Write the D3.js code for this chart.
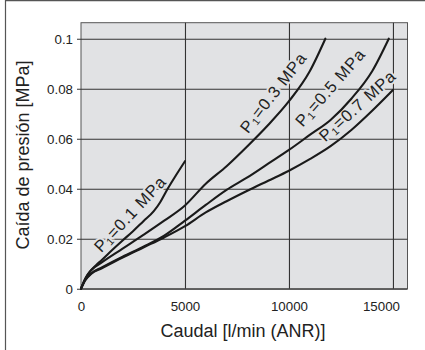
<!DOCTYPE html>
<html>
<head>
<meta charset="utf-8">
<script src="https://cdn.jsdelivr.net/npm/d3@7"></script>
<style>
  html, body { margin: 0; padding: 0; background: #fff; }
  svg { display: block; font-family: "Liberation Sans", Arial, sans-serif; }
</style>
</head>
<body>
<svg id="chart" width="425" height="350"></svg>
<script>
// ---- data ----
const xTicks = [0, 5000, 10000, 15000];
const yTicks = [0, 0.02, 0.04, 0.06, 0.08, 0.1];
const yTickLabels = ["0", "0.02", "0.04", "0.06", "0.08", "0.1"];
const xTickLabels = ["0", "5000", "10000", "15000"];

const flow01 = [0, 150, 400, 700, 1000, 1500, 2000, 2500, 3000, 3500, 3800, 4100, 4500, 5000];
const dp01   = [0, 0.003, 0.0065, 0.0092, 0.0115, 0.0155, 0.0193, 0.023, 0.027, 0.031, 0.0345, 0.039, 0.0445, 0.051];

const flow03 = [0, 200, 500, 1000, 2000, 3000, 4000, 5000, 6000, 7000, 8000, 9000, 10000, 11000, 11750];
const dp03   = [0, 0.004, 0.0075, 0.0105, 0.016, 0.0215, 0.0272, 0.0333, 0.042, 0.049, 0.057, 0.0655, 0.075, 0.087, 0.1];

const flow05 = [0, 200, 500, 1000, 2000, 3000, 4000, 5000, 6000, 7000, 8000, 9000, 10000, 11000, 12000, 13000, 14000, 14800];
const dp05   = [0, 0.0035, 0.0062, 0.0085, 0.0128, 0.0168, 0.0212, 0.0272, 0.0335, 0.0395, 0.0445, 0.05, 0.0555, 0.0615, 0.0675, 0.076, 0.087, 0.1];

const flow07 = [0, 200, 500, 1000, 2000, 3000, 4000, 5000, 6000, 7000, 8000, 9000, 10000, 11000, 12000, 13000, 14000, 15000];
const dp07   = [0, 0.0033, 0.006, 0.0082, 0.0125, 0.0165, 0.0205, 0.025, 0.0305, 0.035, 0.0392, 0.0432, 0.0472, 0.0518, 0.057, 0.0635, 0.0712, 0.0795];

const seriesNames = ["0.1", "0.3", "0.5", "0.7"];
// label anchor (centre) in data units and rotation
const labelFlow  = [2356, 9250, 11980, 13294];
const labelDp    = [0.0299, 0.0785, 0.0805, 0.0732];
const labelAngle = [-47, -52, -49, -42];

const xTitle = "Caudal [l/min (ANR)]";
const yTitle = "Caída de presión [MPa]";

// ---- layout ----
const svg = d3.select("#chart");
const mLeft = 81, mRight = 407.5, mTop = 22.7, mBottom = 288.7;
const x = d3.scaleLinear().domain([0, 15700]).range([mLeft, mRight]);
const y = d3.scaleLinear().domain([0, 0.1064]).range([mBottom, mTop]);

const gridColor = "#333";
const bg = "#e1e2e4";

// outer frame (left + top)
svg.append("line").attr("x1", 5.5).attr("x2", 5.5).attr("y1", 0).attr("y2", 350)
  .attr("stroke", "#555").attr("stroke-width", 1.2);
svg.append("line").attr("x1", 5).attr("x2", 425).attr("y1", 0.6).attr("y2", 0.6)
  .attr("stroke", "#555").attr("stroke-width", 1.2);

// plot background
svg.append("rect").attr("x", mLeft).attr("y", mTop).attr("width", mRight - mLeft).attr("height", mBottom - mTop)
  .attr("fill", bg).attr("stroke", "#555").attr("stroke-width", 1);

// y gridlines + axis
const yAxis = d3.axisLeft(y).tickValues(yTicks).tickSize(-(mRight - mLeft)).tickPadding(0)
  .tickFormat((d, i) => yTickLabels[i]);
const gy = svg.append("g").attr("transform", `translate(${mLeft},0)`).call(yAxis);
gy.select(".domain").remove();
gy.selectAll(".tick line").attr("stroke", gridColor).attr("stroke-width", 1.1).attr("x1", -4);
gy.selectAll(".tick text").attr("x", -8).attr("dy", "0.36em").attr("font-size", 13.3)
  .attr("fill", "#222").attr("font-family", "Liberation Sans, Arial, sans-serif");

// x gridlines + axis
const xAxis = d3.axisBottom(x).tickValues(xTicks).tickSize(-(mBottom - mTop)).tickPadding(0)
  .tickFormat((d, i) => xTickLabels[i]);
const gx = svg.append("g").attr("transform", `translate(0,${mBottom})`).call(xAxis);
gx.select(".domain").remove();
gx.selectAll(".tick line").attr("stroke", gridColor).attr("stroke-width", 1.1);
gx.selectAll(".tick").filter(d => d === 0).select("line").remove();
gx.selectAll(".tick text").attr("y", 22).attr("dy", 0).attr("font-size", 13.3)
  .attr("fill", "#222").attr("font-family", "Liberation Sans, Arial, sans-serif")
  .attr("dx", d => d === 15000 ? -12 : 0);

// series labels (halo breaks gridlines)
seriesNames.forEach((name, i) => {
  const t = svg.append("text")
    .attr("transform", `translate(${x(labelFlow[i])},${y(labelDp[i])}) rotate(${labelAngle[i]})`)
    .attr("text-anchor", "middle").attr("dy", "0.35em")
    .attr("font-size", 16.5).attr("letter-spacing", 0.9)
    .attr("fill", "#222")
    .attr("stroke", bg).attr("stroke-width", 4).attr("paint-order", "stroke")
    .attr("stroke-linejoin", "round");
  t.append("tspan").text("P");
  t.append("tspan").text("1").attr("font-size", 10.5).attr("dy", 2);
  t.append("tspan").text("=" + name + " MPa").attr("dy", -2);
});

// curves
const line = d3.line().x(d => x(d[0])).y(d => y(d[1])).curve(d3.curveMonotoneX);
const series = [
  d3.zip(flow01, dp01),
  d3.zip(flow03, dp03),
  d3.zip(flow05, dp05),
  d3.zip(flow07, dp07)
];
svg.append("g").selectAll("path").data(series).join("path")
  .attr("d", line).attr("fill", "none").attr("stroke", "#1a1a1a")
  .attr("stroke-width", 2.1).attr("stroke-linejoin", "round").attr("stroke-linecap", "round");

// axis titles
svg.append("text").attr("x", 243).attr("y", 337).attr("text-anchor", "middle")
  .attr("font-size", 18).attr("fill", "#222").text(xTitle);
svg.append("text").attr("transform", "translate(29,155) rotate(-90)").attr("text-anchor", "middle")
  .attr("font-size", 18).attr("fill", "#222").text(yTitle);
</script>
</body>
</html>
